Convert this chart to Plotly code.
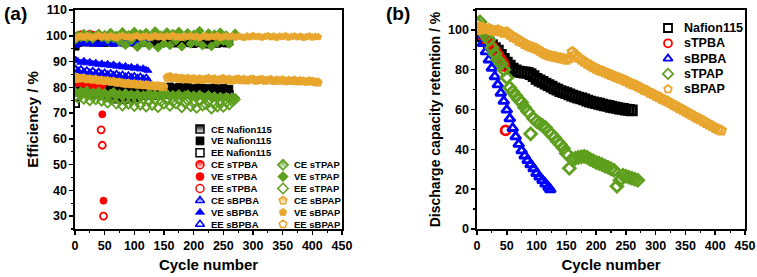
import plotly.graph_objects as go

# ------------------------------------------------------------------ data
# cycle numbers (sampled every 5 cycles)
NAF_CYC = [1] + list(range(5, 261, 5))
TPBA_CYC = [1, 5, 10, 15, 20, 25, 30, 35, 40, 44, 46, 48]
BPBA_CYC = [1] + list(range(5, 121, 5)) + [123]
TPAP_CYC = [1] + list(range(5, 271, 5))
BPAP_CYC = [1] + list(range(5, 411, 5))

# (a) efficiencies, %
naf_ce = [95.8, 97.2, 97.6, 97.4, 97.8, 97.5, 97.3, 97.6, 97.9, 97.4,
          97.2, 97.5, 97.7, 97.3, 97.6, 97.8, 97.4, 97.1, 97.5, 97.7,
          97.3, 97.5, 97.6, 97.2, 97.4, 97.8, 97.5, 97.3, 97.1, 97.4,
          97.6, 97.2, 97.5, 97.3, 97.0, 97.4, 97.6, 97.2, 97.5, 97.1,
          96.8, 97.3, 97.5, 97.0, 97.2, 96.6, 97.1, 97.4, 96.9, 97.2,
          97.5, 97.0, 97.6]
naf_ve = [78.5, 80.6, 81.0, 80.4, 80.8, 80.2, 80.5, 79.8, 80.3, 80.7,
          80.1, 79.6, 80.4, 80.0, 79.5, 79.8, 80.2, 79.6, 79.9, 80.3,
          79.7, 80.1, 79.5, 79.9, 80.4, 79.8, 79.4, 80.0, 79.7, 80.2,
          79.6, 79.9, 80.3, 79.5, 79.8, 80.1, 79.4, 79.9, 80.2, 79.6,
          79.3, 79.8, 80.0, 79.4, 79.7, 79.2, 79.6, 79.9, 79.3, 79.5,
          79.8, 79.2, 79.4]
naf_ee = [73.7, 78.3, 78.9, 78.2, 78.6, 77.9, 78.1, 77.4, 77.8, 78.2,
          77.5, 76.8, 76.2, 75.6, 75.4, 75.9, 75.5, 75.3, 75.8, 75.6,
          75.9, 76.3, 76.8, 77.2, 77.5, 77.1, 76.8, 77.3, 77.0, 77.5,
          77.2, 77.6, 77.9, 77.3, 77.6, 77.8, 77.1, 77.5, 77.9, 77.3,
          77.0, 77.6, 77.8, 77.2, 77.5, 76.9, 77.3, 77.6, 77.0, 77.2,
          77.5, 76.9, 77.2]

tpba_ce = [99.0, 100.2, 100.6, 100.3, 100.1, 100.8, 100.4, 100.0, 99.8, 78.5, 69.5, 36.0]
tpba_ve = [82.5, 82.0, 81.6, 81.4, 81.2, 81.0, 80.8, 80.9, 80.6, 81.0, 80.7, 81.5]
tpba_ee = [81.7, 82.1, 82.0, 81.6, 81.3, 81.6, 81.1, 80.9, 80.4, 63.5, 57.5, 30.0]

bpba_ce = [96.2, 97.3, 96.8, 97.6, 97.1, 96.7, 97.4, 97.0, 96.5, 97.2,
           97.5, 96.9, 97.3, 96.6, 97.0, 97.4, 96.8, 97.2, 96.9, 97.5,
           97.1, 96.7, 97.3, 97.0, 96.8, 97.4]
bpba_ve = [90.8, 90.2, 89.6, 90.3, 89.4, 89.9, 89.1, 89.6, 88.8, 89.3,
           88.6, 89.1, 88.4, 88.9, 88.1, 88.6, 87.8, 88.3, 87.6, 88.0,
           87.3, 87.8, 87.0, 87.4, 86.8, 86.5]
bpba_ee = [87.0, 86.3, 86.9, 85.8, 86.4, 85.6, 86.2, 85.3, 85.9, 85.1,
           85.6, 84.9, 85.4, 84.6, 85.1, 84.3, 84.8, 84.0, 84.5, 83.8,
           84.2, 83.5, 84.0, 83.2, 83.6, 82.6]

tpap_ce = [98.5, 100.2, 99.4, 100.8, 99.1, 100.5, 98.8, 99.9, 100.9, 99.3,
           100.4, 98.6, 101.2, 99.0, 100.1, 97.8, 101.5, 96.4, 100.3, 98.2,
           101.6, 95.6, 100.7, 97.3, 101.2, 96.1, 99.6, 101.8, 95.4, 100.2,
           97.0, 101.4, 96.3, 100.8, 98.1, 101.6, 95.8, 99.4, 101.1, 96.9,
           100.5, 97.6, 101.9, 96.2, 99.8, 101.0, 95.9, 100.6, 97.4, 101.3,
           98.0, 100.2, 96.8, 99.5, 100.9]
tpap_ve = [78.2, 77.6, 78.5, 77.9, 78.8, 77.3, 78.1, 77.7, 78.4, 77.2,
           77.9, 76.8, 77.6, 78.2, 76.9, 77.5, 76.4, 77.8, 76.7, 77.3,
           76.5, 77.4, 76.2, 77.0, 76.6, 77.8, 76.1, 77.2, 76.4, 77.5,
           76.8, 77.6, 76.3, 77.1, 76.5, 77.4, 76.0, 76.9, 77.3, 76.2,
           76.9, 75.8, 77.2, 76.4, 76.0, 77.0, 75.9, 76.6, 75.5, 76.4,
           75.7, 76.3, 75.6, 76.0, 75.9]
tpap_ee = [76.6, 75.8, 77.2, 75.4, 76.9, 74.8, 76.3, 75.2, 76.7, 74.6,
           75.9, 73.9, 75.4, 76.2, 73.5, 75.0, 72.8, 75.6, 73.4, 74.7,
           72.6, 74.9, 73.1, 75.3, 72.4, 74.6, 73.0, 75.1, 72.2, 74.4,
           73.5, 75.0, 72.7, 74.3, 73.6, 75.2, 72.1, 73.9, 74.8, 72.5,
           73.8, 71.9, 74.6, 72.8, 73.4, 74.5, 71.6, 73.3, 72.4, 73.6,
           72.3, 74.1, 73.2, 74.4, 75.3]

bpap_ce = [98.9, 99.6, 99.9, 99.4, 100.1, 99.7, 99.3, 99.8, 100.2, 99.5,
           99.9, 99.4, 100.0, 99.6, 99.2, 99.8, 100.1, 99.5, 99.7, 99.3,
           99.8, 100.0, 99.4, 99.7, 99.9, 99.3, 99.6, 100.1, 99.5, 99.8,
           99.4, 99.9, 99.6, 100.2, 99.5, 99.7, 99.3, 99.9, 99.6, 100.0,
           99.5, 99.8, 99.2, 99.7, 100.0, 99.4, 99.8, 99.6, 100.1, 99.3,
           99.7, 99.9, 99.5, 100.0, 99.4, 99.8, 99.6, 99.3, 99.9, 99.5,
           100.1, 99.6, 99.8, 99.4, 99.7, 100.0, 99.5, 99.9, 99.3, 99.8,
           99.6, 100.0, 99.4, 99.7, 99.9, 99.5, 99.8, 99.3, 99.6, 99.9,
           99.4, 99.7, 99.6]
bpap_ve = [84.3, 84.0, 83.8, 83.9, 83.5, 83.6, 83.3, 83.4, 83.0, 83.1,
           82.8, 82.9, 82.5, 82.6, 82.2, 82.3, 82.0, 81.8, 81.9, 81.6,
           81.7, 81.4, 81.5, 81.2, 81.3, 81.0, 81.1, 80.8, 80.9, 80.7,
           80.6, 84.2, 84.5, 83.9, 84.1, 83.7, 83.9, 83.5, 83.8, 83.4,
           83.7, 83.3, 83.6, 83.2, 83.5, 83.8, 83.3, 83.6, 83.1, 83.4,
           83.7, 83.2, 83.5, 83.0, 83.3, 83.6, 83.1, 83.4, 83.0, 83.3,
           83.5, 82.9, 83.2, 83.4, 82.9, 83.1, 83.3, 82.8, 83.1, 82.9,
           83.2, 82.7, 83.0, 82.8, 83.1, 82.6, 82.9, 82.7, 82.5, 82.8,
           82.6, 82.4, 82.3]
bpap_ee = [83.1, 83.6, 83.3, 83.5, 83.0, 83.2, 82.8, 83.0, 82.5, 82.7,
           82.3, 82.5, 82.0, 82.2, 81.7, 81.9, 81.5, 81.3, 81.4, 81.1,
           81.2, 80.9, 81.0, 80.7, 80.8, 80.5, 80.6, 80.2, 80.4, 80.1,
           80.0, 83.6, 84.0, 83.4, 83.6, 83.2, 83.4, 83.0, 83.3, 82.9,
           83.2, 82.8, 83.1, 82.7, 83.0, 83.3, 82.8, 83.1, 82.6, 82.9,
           83.2, 82.7, 83.0, 82.5, 82.8, 83.1, 82.6, 82.9, 82.5, 82.8,
           83.0, 82.4, 82.7, 82.9, 82.4, 82.6, 82.8, 82.3, 82.6, 82.4,
           82.7, 82.2, 82.5, 82.3, 82.6, 82.1, 82.4, 82.2, 82.0, 82.3,
           82.1, 81.9, 81.8]

# (b) discharge capacity retention, %
naf_ret = [100.0, 98.5, 96.8, 95.2, 93.6, 92.3, 90.9, 89.6, 87.5, 85.4,
           83.6, 82.0, 80.6, 79.6, 79.0, 78.8, 78.6, 78.4, 77.8, 76.8,
           75.4, 74.6, 73.9, 73.0, 72.3, 71.5, 70.6, 70.0, 69.3, 68.7,
           68.2, 67.6, 67.0, 66.5, 66.0, 65.6, 65.1, 64.5, 64.0, 63.6,
           63.2, 62.9, 62.5, 62.1, 61.8, 61.4, 61.1, 60.8, 60.5, 60.3,
           60.0, 59.8, 59.6]
tpba_ret = [100.0, 98.6, 97.0, 95.3, 93.6, 91.8, 89.9, 87.6, 85.2, 83.4, 81.8, 49.5]
bpba_ret = [100.5, 97.5, 93.3, 89.1, 85.0, 80.8, 76.6, 72.5, 68.3, 64.2,
            59.8, 55.4, 50.6, 46.4, 42.6, 39.4, 36.8, 34.5, 32.4, 30.4,
            28.0, 26.2, 24.4, 22.7, 21.0, 19.8]
tpap_ret = [103.0, 104.0, 100.0, 97.0, 95.0, 91.0, 88.0, 85.0, 83.0, 80.0,
            76.0, 71.0, 69.0, 67.0, 65.0, 63.5, 61.0, 59.0, 47.8, 55.5,
            54.0, 53.0, 52.0, 51.0, 49.0, 47.5, 46.0, 44.0, 42.5, 40.5,
            38.0, 30.5, 35.0, 35.5, 36.0, 36.2, 36.5, 36.0, 35.0, 34.3,
            33.5, 33.0, 32.3, 31.6, 31.0, 30.2, 29.5, 21.5, 24.5, 27.0,
            26.5, 26.0, 25.5, 25.0, 24.5]
bpap_ret = [100.0, 101.5, 101.0, 100.3, 100.6, 99.8, 99.5, 99.9, 99.2, 98.6,
            98.8, 97.6, 96.5, 95.8, 94.6, 93.9, 93.0, 92.2, 91.5, 91.0,
            90.4, 89.5, 88.6, 87.8, 87.2, 86.8, 86.5, 86.1, 85.8, 85.5,
            85.0, 85.8, 88.9, 87.5, 86.0, 85.0, 84.0, 83.0, 82.2, 81.3,
            80.5, 79.8, 79.3, 78.6, 78.0, 77.4, 76.7, 76.1, 75.6, 75.0,
            74.4, 73.6, 72.9, 72.3, 71.6, 70.8, 70.0, 69.4, 68.5, 67.8,
            67.0, 66.3, 65.5, 64.7, 64.0, 63.2, 62.3, 61.6, 60.7, 59.9,
            59.0, 58.2, 57.4, 56.5, 55.7, 55.0, 54.2, 53.3, 52.4, 51.6,
            50.8, 50.0, 49.5]

# ------------------------------------------------------------------ style
W, H = 757, 277
FONT = "Liberation Sans, Arial, sans-serif"
BLACK, RED, BLUE, GREEN, GOLD = "#000000", "#FF0000", "#0000FF", "#5E9F1E", "#E8A62E"

MEMBRANES = [  # name, symbol, colour, cycles, CE, VE, EE, retention
    ("Nafion115", "square", BLACK, NAF_CYC, naf_ce, naf_ve, naf_ee, naf_ret),
    ("sTPBA", "circle", RED, TPBA_CYC, tpba_ce, tpba_ve, tpba_ee, tpba_ret),
    ("sBPBA", "triangle-up", BLUE, BPBA_CYC, bpba_ce, bpba_ve, bpba_ee, bpba_ret),
    ("sTPAP", "diamond", GREEN, TPAP_CYC, tpap_ce, tpap_ve, tpap_ee, tpap_ret),
    ("sBPAP", "pentagon", GOLD, BPAP_CYC, bpap_ce, bpap_ve, bpap_ee, bpap_ret),
]

fig = go.Figure()


def marker(symbol, color, kind, size, lw):
    if kind == "open":
        return dict(symbol=symbol + "-open", color=color, size=size, line=dict(width=lw, color=color))
    if kind == "half":
        return dict(symbol=symbol, color=color, size=size, line=dict(width=lw, color=color),
                    gradient=dict(type="vertical", color="white"))
    return dict(symbol=symbol, color=color, size=size, line=dict(width=lw * 0.5, color=color))


for name, sym, col, cyc, ce, ve, ee, ret in MEMBRANES:
    for vals, kind in ((ce, "fill"), (ve, "fill"), (ee, "open")):
        fig.add_trace(go.Scatter(x=cyc, y=vals, xaxis="x", yaxis="y", mode="markers",
                                 marker=marker(sym, col, kind, 7, 1.8),
                                 showlegend=False, hoverinfo="skip"))
for name, sym, col, cyc, ce, ve, ee, ret in MEMBRANES:
    fig.add_trace(go.Scatter(x=cyc, y=ret, xaxis="x2", yaxis="y2", mode="markers",
                             marker=marker(sym, col, "open", 9, 2.8),
                             showlegend=False, hoverinfo="skip"))

# ------------------------------------------------------------------ legends (drawn in pixel space)
LEG_A_ROW0, LEG_A_DY = 129, 11.9
LEG_A_COLS = [(200, 209), (283, 292)]
KIND = {"CE": "half", "VE": "fill", "EE": "open"}
leg_a = []
for j, k in enumerate(["CE", "VE", "EE"]):
    leg_a.append((0, j, f"{k} Nafion115", "square", BLACK, KIND[k]))
for c, group in enumerate([[("sTPBA", "circle", RED), ("sBPBA", "triangle-up", BLUE)],
                           [("sTPAP", "diamond", GREEN), ("sBPAP", "pentagon", GOLD)]]):
    r = 3
    for name, sym, col in group:
        for k in ["CE", "VE", "EE"]:
            leg_a.append((c, r, f"{k} {name}", sym, col, KIND[k]))
            r += 1

annotations = []
for c, r, label, sym, col, kind in leg_a:
    sx, tx = LEG_A_COLS[c]
    y = LEG_A_ROW0 + r * LEG_A_DY
    fig.add_trace(go.Scatter(x=[sx], y=[y], xaxis="x3", yaxis="y3", mode="markers",
                             marker=marker(sym, col, kind, 8, 1.5), showlegend=False, hoverinfo="skip"))
    annotations.append(dict(x=tx, y=y, xref="x3", yref="y3", text=label, showarrow=False,
                            xanchor="left", yanchor="middle",
                            font=dict(family=FONT, size=9.5, color="black", weight="bold")))

LEG_B_X, LEG_B_TX, LEG_B_ROW0, LEG_B_DY = 668, 682, 28, 15.3
for r, (name, sym, col, *_rest) in enumerate(MEMBRANES):
    y = LEG_B_ROW0 + r * LEG_B_DY
    fig.add_trace(go.Scatter(x=[LEG_B_X], y=[y], xaxis="x3", yaxis="y3", mode="markers",
                             marker=marker(sym, col, "open", 8, 1.8), showlegend=False, hoverinfo="skip"))
    annotations.append(dict(x=LEG_B_TX, y=y, xref="x3", yref="y3", text=name, showarrow=False,
                            xanchor="left", yanchor="middle",
                            font=dict(family=FONT, size=12.5, color="black", weight="bold")))

for txt, x in (("(a)", 2), ("(b)", 384)):
    annotations.append(dict(x=x, y=13, xref="x3", yref="y3", text=txt, showarrow=False,
                            xanchor="left", yanchor="middle",
                            font=dict(family=FONT, size=19, color="black", weight="bold")))

# ------------------------------------------------------------------ axes
TICKFONT = dict(family=FONT, size=12.5, color="black", weight="bold")
TITLEFONT = dict(family=FONT, size=15, color="black", weight="bold")
Y0, Y1 = 1 - 229 / H, 1 - 10 / H


def xax(domain, title, anchor):
    return dict(domain=domain, range=[0, 450], dtick=50, tick0=0, ticks="outside", ticklen=4,
                tickwidth=1.5, tickcolor="black", showline=True, linewidth=1.6, linecolor="black",
                mirror=True, showgrid=False, zeroline=False, tickfont=TICKFONT, anchor=anchor,
                automargin=False,
                minor=dict(ticks="outside", ticklen=2.5, dtick=25, tickwidth=1.2, tickcolor="black"),
                title=dict(text=title, font=TITLEFONT, standoff=8), fixedrange=True)


def yax(rng, dtick, mdtick, title, anchor, tsize=15):
    return dict(domain=[Y0, Y1], range=rng, dtick=dtick, tick0=0, ticks="outside", ticklen=4,
                tickwidth=1.5, tickcolor="black", showline=True, linewidth=1.6, linecolor="black",
                mirror=True, showgrid=False, zeroline=False, tickfont=TICKFONT, anchor=anchor,
                automargin=False,
                minor=dict(ticks="outside", ticklen=2.5, dtick=mdtick, tickwidth=1.2, tickcolor="black"),
                title=dict(text=title, font=dict(TITLEFONT, size=tsize), standoff=4), fixedrange=True)


fig.update_layout(
    width=W, height=H, margin=dict(l=0, r=0, t=0, b=0, autoexpand=False),
    paper_bgcolor="white", plot_bgcolor="rgba(0,0,0,0)", showlegend=False,
    xaxis=xax([75 / W, 342 / W], "Cycle number", "y"),
    yaxis=yax([25, 110], 10, 5, "Efficiency / %", "x"),
    xaxis2=xax([477 / W, 745 / W], "Cycle number", "y2"),
    yaxis2=yax([0, 110], 20, 10, "Discharge capacity retention / %", "x2", tsize=14),
    xaxis3=dict(domain=[0, 1], range=[0, W], visible=False, fixedrange=True, anchor="y3", automargin=False),
    yaxis3=dict(domain=[0, 1], range=[H, 0], visible=False, fixedrange=True, anchor="x3", automargin=False),
    annotations=annotations,
)

fig.write_html("out.html", config={"displayModeBar": False, "staticPlot": True},
               post_script="document.body.style.margin='0px';document.body.style.overflow='hidden';")
